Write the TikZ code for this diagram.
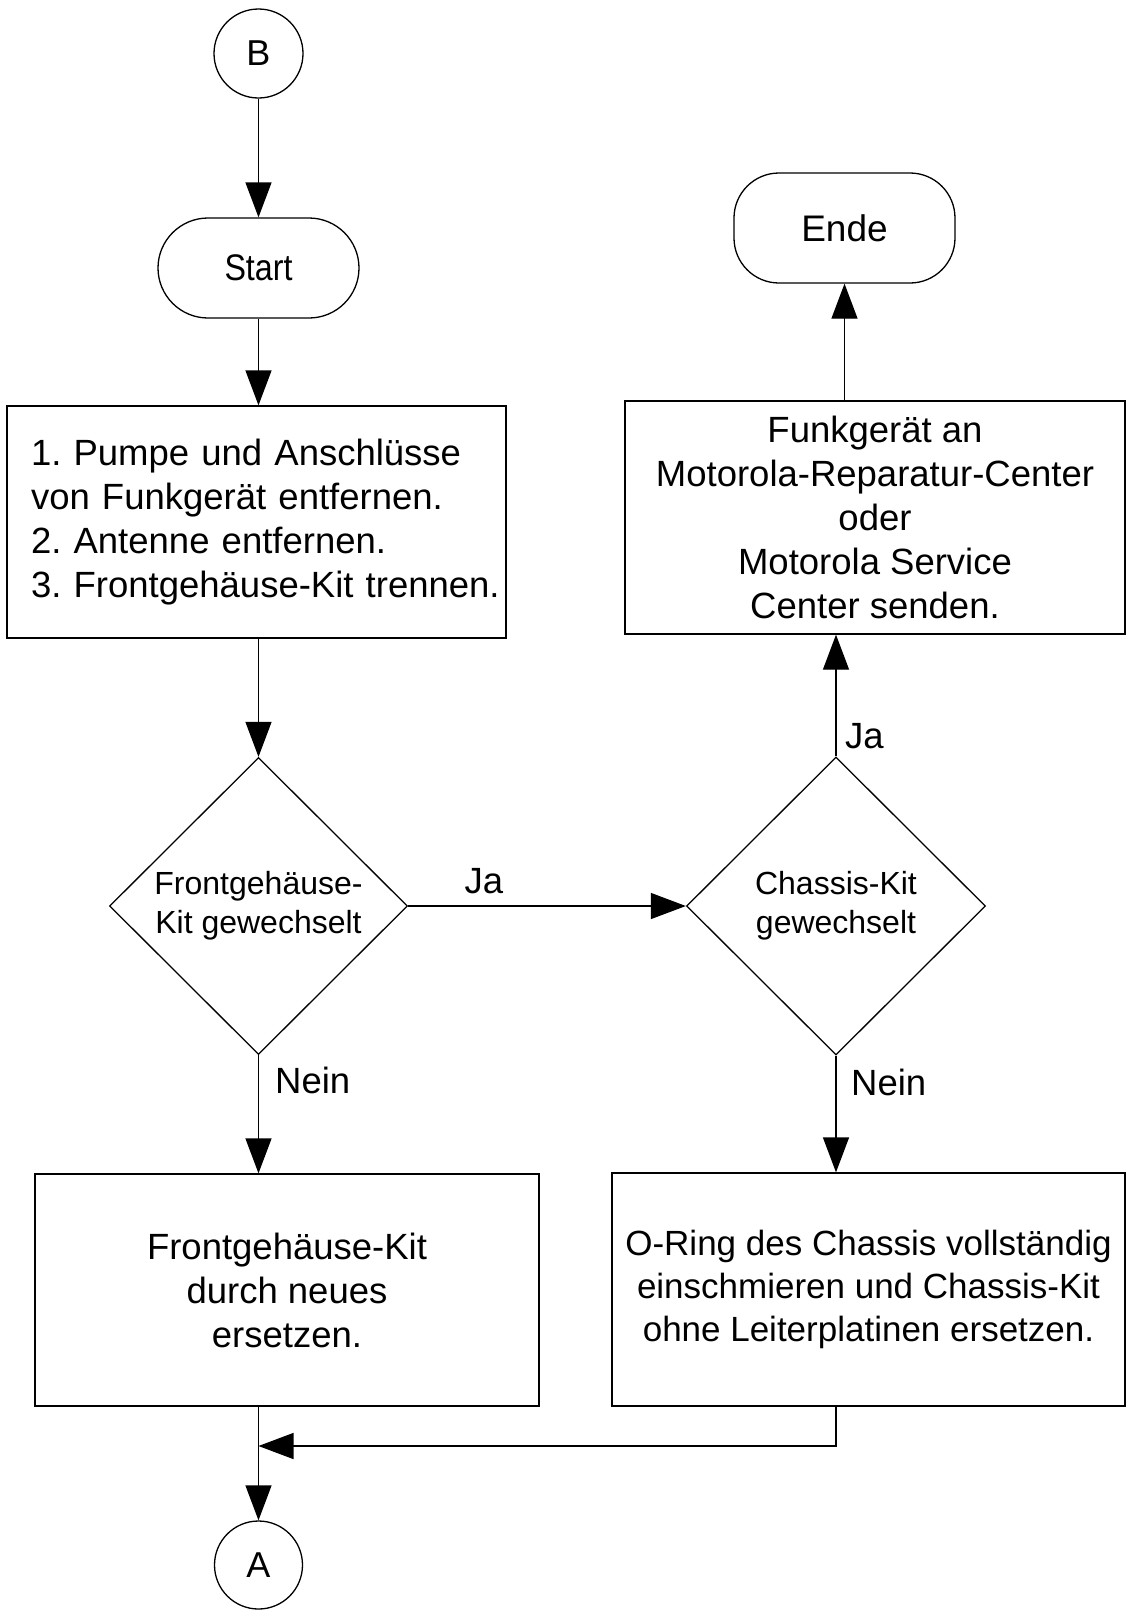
\documentclass[tikz,border=0pt]{standalone}
\usepackage{fontspec}
\usepackage{graphicx}
\setmainfont{Liberation Sans}
\usetikzlibrary{shapes.geometric,arrows.meta}
\frenchspacing

\begin{document}
\begin{tikzpicture}[x=1pt,y=-1pt,
  every node/.style={font=\fontsize{36.5}{44}\selectfont},
  ln/.style={line width=1.3pt},
  arr/.style={ln,-{Triangle[length=35pt,width=26pt]}},
  conn/.style={draw,ln,circle,minimum size=89pt,inner sep=0pt,font=\fontsize{36}{40}\selectfont},
  term/.style={draw,ln,rectangle,inner sep=0pt,font=\fontsize{37}{40}\selectfont},
  proc/.style={draw,ln,rectangle,inner sep=0pt,align=center},
  decide/.style={draw,ln,diamond,inner sep=0pt,align=center,
    font=\fontsize{32}{39}\selectfont},
  lbl/.style={inner sep=0pt}
]
\useasboundingbox (0,0) rectangle (1126,1610);

% nodes
\node[conn] (B) at (258.5,53.5) {B};
\node[term,rounded corners=50pt,minimum width=201pt,minimum height=100pt]
  (start) at (258.5,268) {\scalebox{0.87}[1]{Start}};
\node[draw,ln,rectangle,minimum height=232pt,inner xsep=24pt,inner ysep=0pt,
  text width=451pt,align=left]
  (box1) at (256.5,522)
  {\mbox{1. Pumpe und Anschlüsse}\\\mbox{von Funkgerät entfernen.}\\
   \mbox{2. Antenne entfernen.}\\\mbox{3. Frontgehäuse-Kit trennen.}};
\node[decide,minimum width=298pt,minimum height=297pt]
  (d1) at (258.5,906) {\raisebox{-4pt}{Frontgehäuse-}\\\raisebox{-4pt}{Kit gewechselt}};
\node[decide,minimum width=299pt,minimum height=298pt]
  (d2) at (836,906) {\raisebox{-4pt}{Chassis-Kit}\\\raisebox{-4pt}{gewechselt}};
\node[proc,minimum width=500pt,minimum height=233pt]
  (funk) at (875,517.5)
  {Funkgerät an\\Motorola-Reparatur-Center\\oder\\Motorola Service\\Center senden.};
\node[term,rounded corners=45pt,minimum width=221pt,minimum height=110pt]
  (ende) at (844.5,228) {Ende};
\node[proc,minimum width=504pt,minimum height=232pt]
  (boxL) at (287,1290) {Frontgehäuse-Kit\\durch neues\\ersetzen.};
\node[proc,minimum width=513pt,minimum height=233pt,
  font=\fontsize{35}{43}\selectfont]
  (boxR) at (868.5,1289.5)
  {O-Ring des Chassis vollständig\\einschmieren und Chassis-Kit\\ohne Leiterplatinen ersetzen.};
\node[conn,minimum size=88pt] (A) at (258.5,1565) {A};
\coordinate (jn) at (258.5,1446);

% connectors
\draw[arr] (B) -- (start);
\draw[arr] (start) -- (box1.north -| start);
\draw[arr] (box1.south -| d1) -- (d1.north);
\draw[arr] (d1.east) -- (d2.west);
\draw[arr] (d1.south) -- (boxL.north -| d1);
\draw[arr] (d2.south) -- (boxR.north -| d2);
\draw[arr] (d2.north) -- (funk.south -| d2);
\draw[arr] (funk.north -| ende) -- (ende.south);
\draw[arr] (boxR.south -| d2) |- (jn);
\draw[arr] (boxL.south -| d1) -- (A);

% branch labels
\node[lbl] (ja1) at (484,881) {Ja};
\node[lbl,anchor=west] (nein1) at (275,1080) {Nein};
\node[lbl,anchor=west] (nein2) at (851,1082) {Nein};
\node[lbl,anchor=west] (ja2) at (845,736) {Ja};
\end{tikzpicture}
\end{document}
